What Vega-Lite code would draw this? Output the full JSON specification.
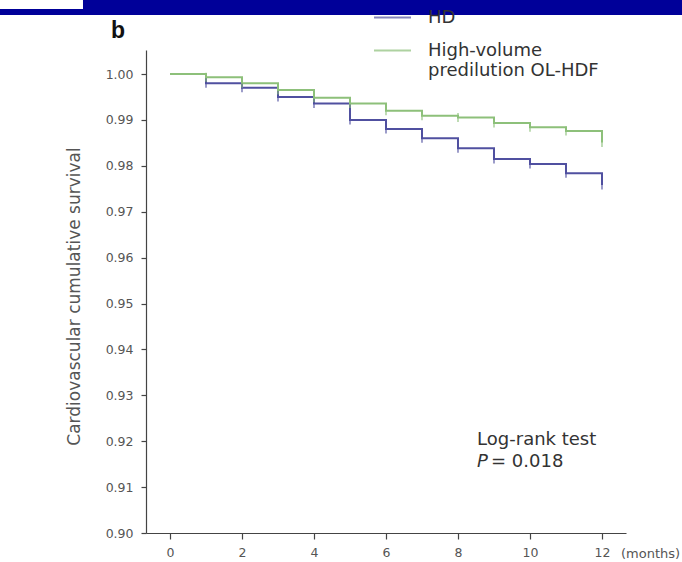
{
  "$schema": "https://vega.github.io/schema/vega-lite/v6.json",
  "autosize": {"type": "none"},
  "padding": {"left": 146, "top": 50, "right": 56, "bottom": 29},
  "width": 480,
  "height": 483,
  "background": "white",
  "config": {"view": {"stroke": null}},
  "data": {"values": [
    {"group": "HD", "month": 0, "survival": 1.000},
    {"group": "HD", "month": 1, "survival": 0.998},
    {"group": "HD", "month": 2, "survival": 0.997},
    {"group": "HD", "month": 3, "survival": 0.995},
    {"group": "HD", "month": 4, "survival": 0.9936},
    {"group": "HD", "month": 5, "survival": 0.990},
    {"group": "HD", "month": 6, "survival": 0.988},
    {"group": "HD", "month": 7, "survival": 0.986},
    {"group": "HD", "month": 8, "survival": 0.9838},
    {"group": "HD", "month": 9, "survival": 0.9815},
    {"group": "HD", "month": 10, "survival": 0.9804},
    {"group": "HD", "month": 11, "survival": 0.9784},
    {"group": "HD", "month": 12, "survival": 0.9758},
    {"group": "High-volume predilution OL-HDF", "month": 0, "survival": 1.000},
    {"group": "High-volume predilution OL-HDF", "month": 1, "survival": 0.9993},
    {"group": "High-volume predilution OL-HDF", "month": 2, "survival": 0.998},
    {"group": "High-volume predilution OL-HDF", "month": 3, "survival": 0.9965},
    {"group": "High-volume predilution OL-HDF", "month": 4, "survival": 0.9948},
    {"group": "High-volume predilution OL-HDF", "month": 5, "survival": 0.9936},
    {"group": "High-volume predilution OL-HDF", "month": 6, "survival": 0.992},
    {"group": "High-volume predilution OL-HDF", "month": 7, "survival": 0.9909},
    {"group": "High-volume predilution OL-HDF", "month": 8, "survival": 0.9905},
    {"group": "High-volume predilution OL-HDF", "month": 9, "survival": 0.9893},
    {"group": "High-volume predilution OL-HDF", "month": 10, "survival": 0.9884},
    {"group": "High-volume predilution OL-HDF", "month": 11, "survival": 0.9876},
    {"group": "High-volume predilution OL-HDF", "month": 12, "survival": 0.9851}
  ]},
  "layer": [
    {
      "data": {"values": [{}]},
      "mark": {"type": "rect", "color": "#000099"},
      "encoding": {
        "x": {"datum": -5, "type": "quantitative", "scale": {"domain": [-0.6667, 12.6667], "nice": false, "zero": false}},
        "x2": {"datum": 15},
        "y": {"datum": 1.01285, "type": "quantitative", "scale": {"domain": [0.9, 1.00523], "nice": false, "zero": false}},
        "y2": {"datum": 1.01416}
      }
    },
    {
      "data": {"values": [{}]},
      "mark": {"type": "rect", "color": "#000099"},
      "encoding": {
        "x": {"datum": -2.417, "type": "quantitative"},
        "x2": {"datum": 15},
        "y": {"datum": 1.01405, "type": "quantitative"},
        "y2": {"datum": 1.0175}
      }
    },
    {
      "mark": {"type": "line", "interpolate": "step-after", "strokeWidth": 2},
      "encoding": {
        "x": {"field": "month", "type": "quantitative",
          "axis": {"values": [0, 2, 4, 6, 8, 10, 12], "grid": false, "title": "(months)", "titleX": 504, "titleY": 20, "titleAlign": "center", "titleBaseline": "middle", "titleFont": "DejaVu Sans", "titleFontSize": 13, "titleFontWeight": "normal", "titleColor": "#555",
            "labelFont": "DejaVu Sans", "labelFontSize": 12.5, "labelColor": "#555", "labelPadding": 7, "tickSize": 6, "tickColor": "#444", "domainColor": "#444", "domainWidth": 1.2, "tickWidth": 1.2}},
        "y": {"field": "survival", "type": "quantitative",
          "axis": {"values": [0.9, 0.91, 0.92, 0.93, 0.94, 0.95, 0.96, 0.97, 0.98, 0.99, 1.0], "format": ".2f", "grid": false, "title": "Cardiovascular cumulative survival", "titleX": -72, "titleY": 246, "titleAngle": -90, "titleAlign": "center", "titleBaseline": "middle", "titleFont": "DejaVu Sans", "titleFontSize": 17, "titleFontWeight": "normal", "titleColor": "#555",
            "labelFont": "DejaVu Sans", "labelFontSize": 12.5, "labelColor": "#555", "labelPadding": 8, "tickSize": 5, "tickColor": "#444", "domainColor": "#444", "domainWidth": 1.2, "tickWidth": 1.2}},
        "color": {"field": "group", "type": "nominal",
          "scale": {"domain": ["HD", "High-volume predilution OL-HDF"], "range": ["#5050a0", "#8dc07a"]},
          "legend": {"orient": "none", "legendX": 227, "legendY": -52, "title": null, "symbolType": "stroke", "symbolSize": 1369, "symbolStrokeWidth": 2, "labelFont": "DejaVu Sans", "labelFontSize": 18, "labelColor": "#333", "labelOffset": 16, "rowPadding": 4, "labelLimit": 400,
            "labelExpr": "datum.label == 'HD' ? 'HD' : ['High-volume', 'predilution OL-HDF']"}}
      }
    },
    {
      "transform": [{"filter": "datum.month > 0"}],
      "mark": {"type": "tick", "orient": "vertical", "size": 9, "thickness": 1.6},
      "encoding": {
        "x": {"field": "month", "type": "quantitative"},
        "y": {"field": "survival", "type": "quantitative"},
        "color": {"field": "group", "type": "nominal"}
      }
    },
    {
      "data": {"values": [{}]},
      "mark": {"type": "text", "text": "b", "align": "center", "baseline": "alphabetic", "font": "Liberation Sans", "fontSize": 23, "fontWeight": "bold", "color": "#111"},
      "encoding": {"x": {"datum": -1.444, "type": "quantitative"}, "y": {"datum": 1.00784, "type": "quantitative"}}
    },
    {
      "data": {"values": [{}]},
      "mark": {"type": "text", "text": "Log-rank test", "align": "left", "baseline": "middle", "font": "DejaVu Sans", "fontSize": 18, "color": "#333"},
      "encoding": {"x": {"datum": 8.53, "type": "quantitative"}, "y": {"datum": 0.92026, "type": "quantitative"}}
    },
    {
      "data": {"values": [{}]},
      "mark": {"type": "text", "text": "P", "align": "left", "baseline": "middle", "font": "DejaVu Sans", "fontSize": 18, "fontStyle": "italic", "color": "#333"},
      "encoding": {"x": {"datum": 8.53, "type": "quantitative"}, "y": {"datum": 0.9155, "type": "quantitative"}}
    },
    {
      "data": {"values": [{}]},
      "mark": {"type": "text", "text": "= 0.018", "align": "left", "baseline": "middle", "font": "DejaVu Sans", "fontSize": 18, "color": "#333"},
      "encoding": {"x": {"datum": 8.917, "type": "quantitative"}, "y": {"datum": 0.9155, "type": "quantitative"}}
    }
  ]
}
